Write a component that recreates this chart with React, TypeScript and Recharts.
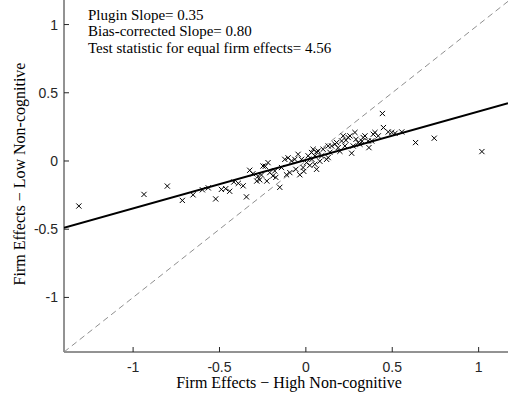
import React from 'react';
import { ScatterChart, Scatter, XAxis, YAxis } from 'recharts';

// Firm effects, high non-cognitive (x) and low non-cognitive (y)
const firmHigh = [
  -1.314, -0.937, -0.802, -0.715, -0.653, -0.599, -0.565, -0.522, -0.489, -0.464,
  -0.441, -0.417, -0.391, -0.363, -0.344, -0.325, -0.307, -0.277, -0.267, -0.248,
  -0.235, -0.257, -0.219, -0.209, -0.226, -0.191, -0.18, -0.151, -0.141, -0.122,
  -0.103, -0.112, -0.093, -0.083, -0.064, -0.045, -0.035, -0.025, -0.016, 0.004,
  0.013, 0.023, 0.033, 0.042, 0.052, 0.062, 0.052, 0.062, 0.071, 0.091,
  0.1, 0.12, 0.129, 0.129, 0.149, 0.168, 0.178, 0.187, 0.207, 0.216,
  0.226, 0.245, 0.255, 0.265, 0.274, 0.284, 0.303, 0.313, 0.332, 0.342,
  0.361, 0.365, 0.381, 0.39, 0.4, 0.419, 0.443, 0.449, 0.477, 0.497,
  0.516, 0.555, 0.635, 0.743, 1.019, -0.284, -0.174, -0.058, -0.012, 0.035,
  0.081, 0.139, 0.197, 0.232, 0.29, 0.325,
];
const firmLow = [
  -0.33, -0.245, -0.184, -0.289, -0.248, -0.211, -0.197, -0.278, -0.208, -0.203,
  -0.222, -0.154, -0.164, -0.182, -0.263, -0.068, -0.094, -0.112, -0.138, -0.037,
  -0.039, -0.103, -0.012, -0.085, -0.147, -0.109, -0.073, -0.193, -0.048, 0.012,
  0.023, -0.101, -0.085, 0.0, 0.012, 0.049, -0.101, 0.012, -0.048, -0.012,
  0.038, -0.032, 0.062, 0.086, 0.037, 0.066, -0.024, -0.061, 0.073, 0.037,
  0.086, 0.012, 0.11, 0.025, 0.11, 0.123, 0.135, 0.098, 0.147, 0.184,
  0.11, 0.172, 0.184, 0.057, 0.11, 0.209, 0.135, 0.123, 0.172, 0.184,
  0.147, 0.098, 0.147, 0.196, 0.209, 0.184, 0.348, 0.245, 0.213, 0.209,
  0.203, 0.213, 0.135, 0.167, 0.069, -0.147, -0.12, -0.061, -0.076, 0.012,
  -0.002, 0.064, 0.071, 0.152, 0.159, 0.145,
];

// Fitted (plugin) regression line endpoints
const fitX = [-1.4, 1.17];
const fitY = [-0.489, 0.424];
// 45-degree reference line endpoints
const diagX = [-1.4, 1.18];
const diagY = [-1.4, 1.18];

const xDomain = [-1.4, 1.17];
const yDomain = [-1.4, 1.18];
const xTicks = [-1, -0.5, 0, 0.5, 1];
const yTicks = [-1, -0.5, 0, 0.5, 1];

const annotations = [
  'Plugin Slope= 0.35',
  'Bias-corrected Slope= 0.80',
  'Test statistic for equal firm effects= 4.56',
];
const xTitle = 'Firm Effects \u2212 High Non-cognitive';
const yTitle = 'Firm Effects \u2212 Low Non-cognitive';

const points = firmHigh.map((x, i) => ({ x, y: firmLow[i] }));
const fitLine = fitX.map((x, i) => ({ x, y: fitY[i] }));
const diagLine = diagX.map((x, i) => ({ x, y: diagY[i] }));

const AX = '#262626';
const TICK_FONT = "'Liberation Sans', Arial, Helvetica, sans-serif";
const SERIF = "'Liberation Serif', 'Times New Roman', 'DejaVu Serif', serif";

const fmt = (v: number) => String(v);

const XTick = (props: any) => {
  const { x, y, payload } = props;
  return (
    <g>
      <line x1={x} x2={x} y1={y} y2={y - 5} stroke={AX} strokeWidth={1} />
      <text x={x} y={y + 20} textAnchor="middle" style={{ fontFamily: TICK_FONT, fontSize: 14 }} fill={AX}>
        {fmt(payload.value)}
      </text>
    </g>
  );
};

const TopTick = (props: any) => {
  const { x, y } = props;
  return <line x1={x} x2={x} y1={y} y2={y + 4} stroke={AX} strokeWidth={1} />;
};

const YTick = (props: any) => {
  const { x, y, payload } = props;
  return (
    <g>
      <line x1={x} x2={x + 5} y1={y} y2={y} stroke={AX} strokeWidth={1} />
      <text x={x - 6} y={y + 5} textAnchor="end" style={{ fontFamily: TICK_FONT, fontSize: 14 }} fill={AX}>
        {fmt(payload.value)}
      </text>
    </g>
  );
};

const Cross = (props: any) => {
  const { cx, cy } = props;
  if (cx == null || cy == null) return <g />;
  const s = 2.6;
  return (
    <g>
      <line x1={cx - s} y1={cy - s} x2={cx + s} y2={cy + s} stroke="#000" strokeWidth={1} />
      <line x1={cx - s} y1={cy + s} x2={cx + s} y2={cy - s} stroke="#000" strokeWidth={1} />
    </g>
  );
};

const Empty = () => <g />;

export default function App() {
  return (
    <div style={{ position: 'absolute', left: 0, top: 0, width: 508, height: 400, background: '#fff' }}>
      <ScatterChart width={508} height={400} margin={{ top: 0, right: 0, bottom: 0, left: 0 }}>
        <XAxis
          xAxisId="top"
          orientation="top"
          type="number"
          dataKey="x"
          domain={xDomain}
          ticks={xTicks}
          allowDataOverflow
          height={0}
          tickSize={0}
          tickMargin={0}
          axisLine={false}
          tickLine={false}
          tick={<TopTick />}
        />
        <XAxis
          type="number"
          dataKey="x"
          domain={xDomain}
          ticks={xTicks}
          allowDataOverflow
          height={48}
          tickSize={0}
          tickMargin={0}
          axisLine={{ stroke: AX, strokeWidth: 1 }}
          tickLine={false}
          tick={<XTick />}
        />
        <YAxis
          type="number"
          dataKey="y"
          domain={yDomain}
          ticks={yTicks}
          allowDataOverflow
          width={64}
          tickSize={0}
          tickMargin={0}
          axisLine={{ stroke: AX, strokeWidth: 1 }}
          tickLine={false}
          tick={<YTick />}
        />
        <Scatter
          data={diagLine}
          line={{ stroke: '#8f8f8f', strokeWidth: 1, strokeDasharray: '6 4' }}
          shape={<Empty />}
          isAnimationActive={false}
        />
        <Scatter
          data={fitLine}
          line={{ stroke: '#000', strokeWidth: 2 }}
          shape={<Empty />}
          isAnimationActive={false}
        />
        <Scatter data={points} shape={<Cross />} isAnimationActive={false} />
      </ScatterChart>
      <svg width={508} height={400} style={{ position: 'absolute', left: 0, top: 0, pointerEvents: 'none' }}>
        {annotations.map((t, i) => (
          <text key={i} x={88} y={19.5 + i * 16.6} style={{ fontFamily: SERIF, fontSize: 15 }} fill="#000">
            {t}
          </text>
        ))}
        <text x={289} y={388} textAnchor="middle" style={{ fontFamily: SERIF, fontSize: 16 }} fill="#000">
          {xTitle}
        </text>
        <text
          x={0}
          y={0}
          transform="translate(25 174) rotate(-90)"
          textAnchor="middle"
          style={{ fontFamily: SERIF, fontSize: 16 }}
          fill="#000"
        >
          {yTitle}
        </text>
      </svg>
    </div>
  );
}
